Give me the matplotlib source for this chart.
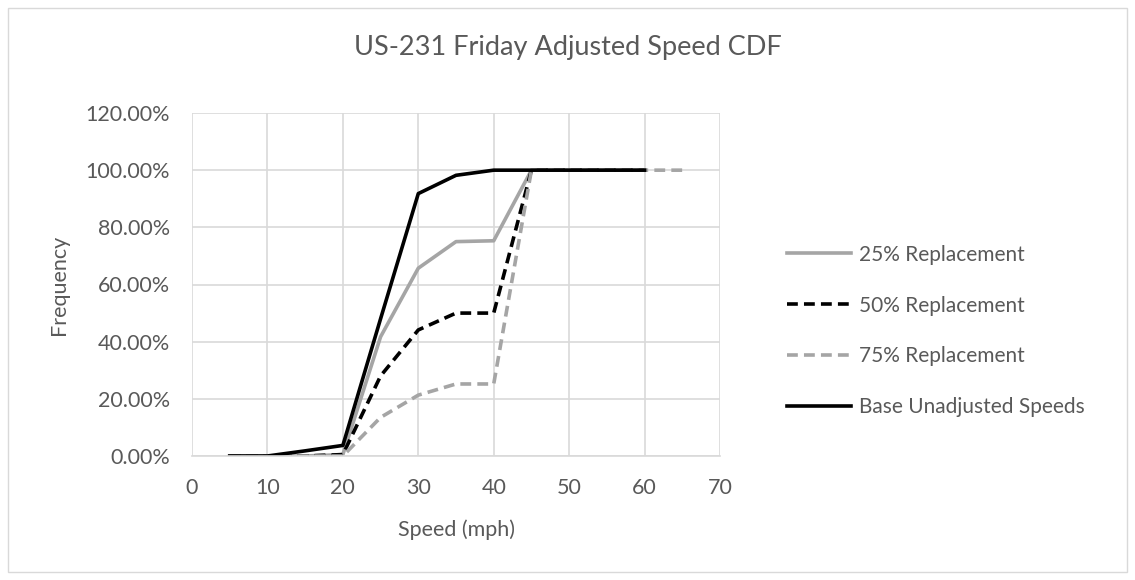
import matplotlib.pyplot as plt
from matplotlib.patches import Rectangle
from matplotlib.ticker import FuncFormatter

plt.rcParams['font.family'] = ['Lato', 'DejaVu Sans']

# speeds (mph) and cumulative frequency (%) for each case
speed = [5, 10, 15, 20, 25, 30, 35, 40, 45, 50, 55, 60, 65]
rep25 = [0, 0, 0, 0.5, 41.7, 65.7, 75.0, 75.3, 100, 100, 100, 100]
rep50 = [0, 0, 0, 0.5, 28.0, 44.1, 50.0, 50.0, 100, 100, 100, 100]
rep75 = [0, 0, 0, 0.0, 13.5, 21.3, 25.2, 25.2, 100, 100, 100, 100, 100]
base = [0, 0, 1.8, 3.7, 48.0, 91.8, 98.2, 100, 100, 100, 100, 100]

txt = '#595959'
grid = '#d9d9d9'

fig = plt.figure(figsize=(11.35, 5.8), dpi=100)
ax = fig.add_axes([192/1135, 1 - 456/580, (720-192)/1135, (456-113)/580])

ax.plot(speed[:len(rep25)], rep25, color='#a5a5a5', lw=2.6, label='25% Replacement')
ax.plot(speed[:len(rep50)], rep50, color='black', lw=2.6, ls=(0, (3, 1.7)), label='50% Replacement')
ax.plot(speed[:len(rep75)], rep75, color='#a5a5a5', lw=2.6, ls=(0, (3, 1.7)), label='75% Replacement')
ax.plot(speed[:len(base)], base, color='black', lw=2.6, label='Base Unadjusted Speeds')

ax.set_xlim(0, 70)
ax.set_ylim(0, 120)
ax.set_xticks(range(0, 71, 10))
ax.set_yticks(range(0, 121, 20))
ax.yaxis.set_major_formatter(FuncFormatter(lambda v, p: f'{v:.2f}%'))
ax.grid(True, color=grid, lw=1.2)
ax.set_axisbelow(True)
for s in ['top', 'right', 'left']:
    ax.spines[s].set_visible(False)
ax.spines['bottom'].set_color(grid)
ax.spines['bottom'].set_linewidth(1.2)
ax.tick_params(length=0, labelsize=15.5, colors=txt)
ax.tick_params(axis='y', pad=16)
ax.tick_params(axis='x', pad=16)

ax.set_xlabel('Speed (mph)', fontsize=15.5, color=txt, labelpad=15)
ax.set_ylabel('Frequency', fontsize=15.5, color=txt, labelpad=12)
fig.text(0.5, 1 - 47/580, 'US-231 Friday Adjusted Speed CDF', ha='center', va='center',
         fontsize=19.5, color=txt)

leg = fig.legend(loc='center left', bbox_to_anchor=(768/1135, 1 - 331/580), frameon=False,
                 fontsize=15, labelspacing=1.48, handlelength=3.1, handletextpad=0.35)
for t in leg.get_texts():
    t.set_color(txt)

fig.patches.append(Rectangle((8/1135, 8/580), 1119/1135, 564/580, transform=fig.transFigure,
                             fill=False, edgecolor=grid, lw=1))

fig.savefig('out.png', dpi=100)
